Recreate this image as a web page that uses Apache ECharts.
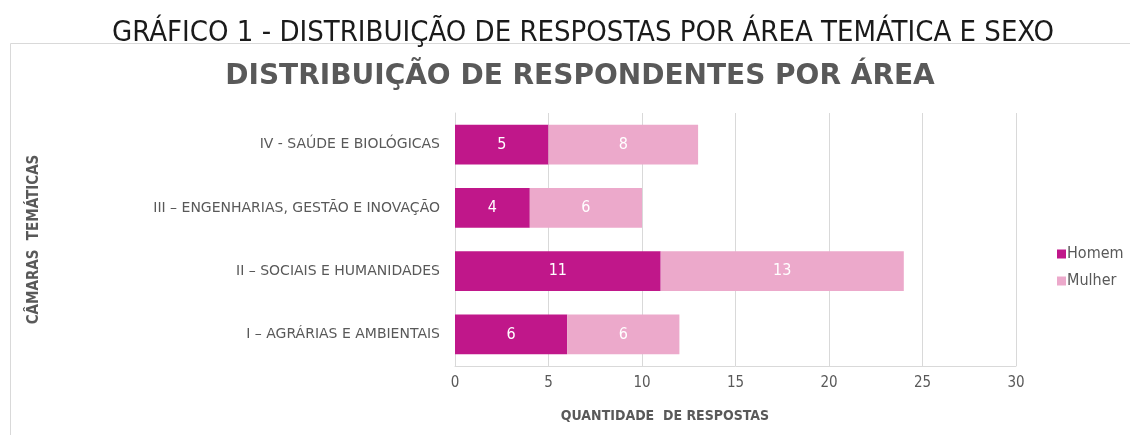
<!DOCTYPE html>
<html lang="pt">

<head>
  <script src="https://cdn.jsdelivr.net/npm/echarts@6.0.0/dist/echarts.min.js"></script>
  <meta charset="UTF-8">
  <style>
    html, body { margin: 0; padding: 0; background: #fff; }
  </style>
</head>

<body>
  <div id="areaChart" style="width: 1130px;height:435px;"></div>

  <script type="text/javascript">

    // categories bottom -> top, as the y axis draws them
    var categories = [
      'I – AGRÁRIAS E AMBIENTAIS',
      'II – SOCIAIS E HUMANIDADES',
      'III – ENGENHARIAS, GESTÃO E INOVAÇÃO',
      'IV - SAÚDE E BIOLÓGICAS'
    ];
    var homem = [6, 11, 4, 5];
    var mulher = [6, 13, 6, 8];
    var xTicks = [0, 5, 10, 15, 20, 25, 30];

    var narrow = "'Liberation Sans Narrow', 'DejaVu Sans Condensed', 'Liberation Sans', sans-serif";
    var gray = '#595959';

    function createAreaChart() {
        const chart = echarts.init(document.getElementById('areaChart'));

        const barSeries = (name, values, color) => ({
            name,
            type: 'bar',
            stack: 'total',
            data: values,
            barCategoryGap: '37%',
            itemStyle: { color },
            label: {
                show: true,
                position: 'inside',
                color: '#fff',
                fontFamily: narrow,
                fontSize: 16
            }
        });

        const option = {
            animation: false,
            textStyle: { fontFamily: narrow },
            title: [
                {
                    text: 'GRÁFICO 1 - DISTRIBUIÇÃO DE RESPOSTAS POR ÁREA TEMÁTICA E SEXO',
                    left: 578,
                    top: 14,
                    textAlign: 'center',
                    textStyle: { fontFamily: narrow, fontSize: 29, fontWeight: 'normal', color: '#1a1a1a' }
                },
                {
                    text: 'DISTRIBUIÇÃO DE RESPONDENTES POR ÁREA',
                    left: 575,
                    top: 58,
                    textAlign: 'center',
                    textStyle: { fontFamily: "'DejaVu Sans', sans-serif", fontSize: 28, fontWeight: 'bold', color: gray }
                },
                {
                    text: 'QUANTIDADE  DE RESPOSTAS',
                    left: 660,
                    top: 404,
                    textAlign: 'center',
                    textStyle: { fontFamily: narrow, fontSize: 14, fontWeight: 'bold', color: gray }
                }
            ],
            graphic: [
                {
                    type: 'polyline',
                    shape: { points: [[10.5, 435], [10.5, 43.5], [1130, 43.5]] },
                    style: { stroke: '#d9d9d9', lineWidth: 1, fill: null }
                }
            ],
            legend: {
                orient: 'vertical',
                left: 1052,
                top: 241,
                itemWidth: 9,
                itemHeight: 9,
                itemGap: 11,
                icon: 'rect',
                textStyle: { fontFamily: narrow, fontSize: 16, color: gray, padding: [0, 0, 0, -4] },
                data: ['Homem', 'Mulher']
            },
            grid: { left: 455, right: 114, top: 113, bottom: 69 },
            xAxis: {
                type: 'value',
                min: xTicks[0],
                max: xTicks[xTicks.length - 1],
                interval: 5,
                axisLine: { show: true, lineStyle: { color: '#d9d9d9' } },
                axisTick: { show: false },
                axisLabel: { color: gray, fontSize: 15, margin: 10, fontFamily: narrow },
                splitLine: { lineStyle: { color: '#d9d9d9' } }
            },
            yAxis: {
                type: 'category',
                data: categories,
                name: 'CÂMARAS  TEMÁTICAS',
                nameLocation: 'middle',
                nameRotate: 90,
                nameGap: 413,
                nameTextStyle: { fontFamily: narrow, fontSize: 15, fontWeight: 'bold', color: gray },
                axisLine: { show: true, lineStyle: { color: '#d9d9d9' } },
                axisTick: { show: false },
                axisLabel: { color: gray, fontSize: 14, margin: 15, fontFamily: "'DejaVu Sans', sans-serif" }
            },
            series: [
                barSeries('Homem', homem, '#c0178a'),
                barSeries('Mulher', mulher, '#eca9cb')
            ]
        };

        chart.setOption(option);
    }
    createAreaChart();
  </script>
</body>

</html>
